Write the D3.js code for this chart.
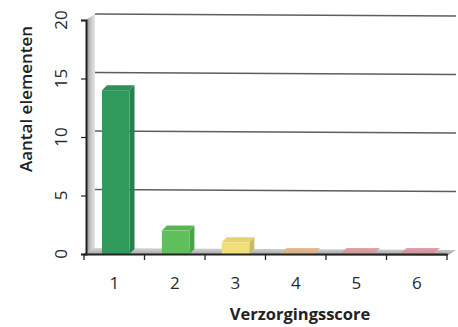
<!DOCTYPE html>
<html><head><meta charset="utf-8">
<script src="https://cdn.jsdelivr.net/npm/d3@7"></script>
<style>html,body{margin:0;padding:0;background:#fff;}svg{display:block;}</style>
</head><body>
<svg id="c" width="458" height="327"></svg>
<script>
const categories = ["1","2","3","4","5","6"];
const values = [14, 2, 1, 0, 0, 0];
const barColors = ["#2f9a5c","#5fbf5a","#f0df78","#e2b07e","#d79597","#d8909a"];
const yTicks = [0,5,10,15,20];
const xTitle = "Verzorgingsscore";
const yTitle = "Aantal elementen";

const svg = d3.select("#c");
const x0 = 84, x1 = 447, yBottom = 254, yTop = 20;
const depthX = 9, depthY = -6;      // chart depth (walls)
const barDX = 5, barDY = -5;        // bar depth

const y = d3.scaleLinear().domain([0,20]).range([yBottom, yTop]);
const xCat = d3.scaleBand().domain(categories).range([x0, x1]).padding(0);
const xBar = d3.scaleBand().domain(categories).range([x0, x1]).paddingInner(0.54).paddingOuter(0.3);

const defs = svg.append("defs");
const wallGrad = defs.append("linearGradient").attr("id","wall").attr("x1","0").attr("x2","1");
wallGrad.append("stop").attr("offset","0").attr("stop-color","#8a8a8a");
wallGrad.append("stop").attr("offset","0.5").attr("stop-color","#c4c4c4");
wallGrad.append("stop").attr("offset","1").attr("stop-color","#e6e6e6");
const floorGrad = defs.append("linearGradient").attr("id","floor").attr("x1","0").attr("x2","0").attr("y1","0").attr("y2","1");
floorGrad.append("stop").attr("offset","0").attr("stop-color","#d6d6d6");
floorGrad.append("stop").attr("offset","1").attr("stop-color","#9a9a9a");

// back wall gridlines
svg.append("g").selectAll("line").data(yTicks.filter(d=>d>0)).join("line")
  .attr("x1", x0 + depthX + 2).attr("x2", 456)
  .attr("y1", d => y(d) + depthY).attr("y2", d => y(d) + depthY + 2)
  .attr("stroke", "#5e5e5e").attr("stroke-width", 1.6);

// left wall
svg.append("path")
  .attr("d", `M${x0+2},${y(0)} L${x0+2},${y(20)} L${x0+depthX+2},${y(20)+depthY} L${x0+depthX+2},${y(0)+depthY} Z`)
  .attr("fill","url(#wall)");

// floor
svg.append("path")
  .attr("d", `M${x0},${y(0)} L${x0+depthX},${y(0)+depthY} L${x1+depthX},${y(0)+depthY+2} L${x1},${y(0)+2} Z`)
  .attr("fill","url(#floor)");

// zero-value floor patches
const zeroIdx = values.map((v,i)=>i).filter(i=>values[i]===0);
svg.append("g").selectAll("path").data(zeroIdx).join("path")
  .attr("d", i => {
    const bx = xBar(categories[i]), bw = xBar.bandwidth();
    return `M${bx-2},${y(0)} L${bx+barDX},${y(0)+depthY} L${bx+bw+barDX+6},${y(0)+depthY} L${bx+bw+4},${y(0)} Z`;
  })
  .attr("fill", i => barColors[i]).attr("opacity", 0.85);

// bars 3D
const bars = svg.append("g").selectAll("g").data(values.map((v,i)=>({v,i})).filter(d=>d.v>0)).join("g");
bars.append("path") // side
  .attr("d", d => {
    const bx = xBar(categories[d.i]) + xBar.bandwidth();
    return `M${bx},${y(0)} L${bx},${y(d.v)} L${bx+barDX},${y(d.v)+barDY} L${bx+barDX},${y(0)+barDY} Z`;
  })
  .attr("fill", d => d3.color(barColors[d.i]).darker(0.5));
bars.append("path") // top
  .attr("d", d => {
    const bx = xBar(categories[d.i]), bw = xBar.bandwidth();
    return `M${bx},${y(d.v)} L${bx+barDX},${y(d.v)+barDY} L${bx+bw+barDX},${y(d.v)+barDY} L${bx+bw},${y(d.v)} Z`;
  })
  .attr("fill", d => d3.color(barColors[d.i]).darker(0.15));
bars.append("rect") // front
  .attr("x", d => xBar(categories[d.i]))
  .attr("y", d => y(d.v))
  .attr("width", xBar.bandwidth())
  .attr("height", d => y(0) - y(d.v))
  .attr("fill", d => barColors[d.i]);

// y axis
const yAxis = svg.append("g").attr("transform", `translate(${x0+2},0)`)
  .call(d3.axisLeft(y).tickValues(yTicks).tickSize(5).tickFormat(() => ""));
yAxis.select(".domain").attr("stroke","#222").attr("stroke-width",2);
yAxis.selectAll(".tick line").attr("stroke","#222").attr("stroke-width",1.2);

svg.append("g").selectAll("text").data(yTicks).join("text")
  .attr("transform", d => `translate(67,${y(d)}) rotate(-90)`)
  .attr("text-anchor","middle")
  .attr("font-family","Open Sans, sans-serif").attr("font-size",17).attr("fill","#2a2a2a")
  .text(d => d);

// x axis
const xAxis = svg.append("g").attr("transform", `translate(0,${y(0)})`)
  .call(d3.axisBottom(xCat).tickSize(0).tickFormat(() => ""));
xAxis.select(".domain").attr("stroke","#222").attr("stroke-width",2);
svg.append("g").selectAll("line").data(d3.range(categories.length+1)).join("line")
  .attr("x1", i => x0 + i*xCat.step()).attr("x2", i => x0 + i*xCat.step())
  .attr("y1", y(0)).attr("y2", y(0)+6)
  .attr("stroke","#222").attr("stroke-width",1.3);

svg.append("g").selectAll("text").data(categories).join("text")
  .attr("x", d => xCat(d) + xCat.bandwidth()/2)
  .attr("y", 289)
  .attr("text-anchor","middle")
  .attr("font-family","Open Sans, sans-serif").attr("font-size",17).attr("fill","#2a2a2a")
  .text(d => d);

svg.append("text")
  .attr("x", 300).attr("y", 320).attr("text-anchor","middle")
  .attr("font-family","Open Sans, sans-serif").attr("font-size",16.5).attr("font-weight","bold").attr("fill","#222")
  .text(xTitle);

svg.append("text")
  .attr("transform", "translate(32,99) rotate(-90)")
  .attr("text-anchor","middle")
  .attr("font-family","Open Sans, sans-serif").attr("font-size",17).attr("font-weight",600).attr("fill","#222")
  .text(yTitle);
</script>
</body></html>
